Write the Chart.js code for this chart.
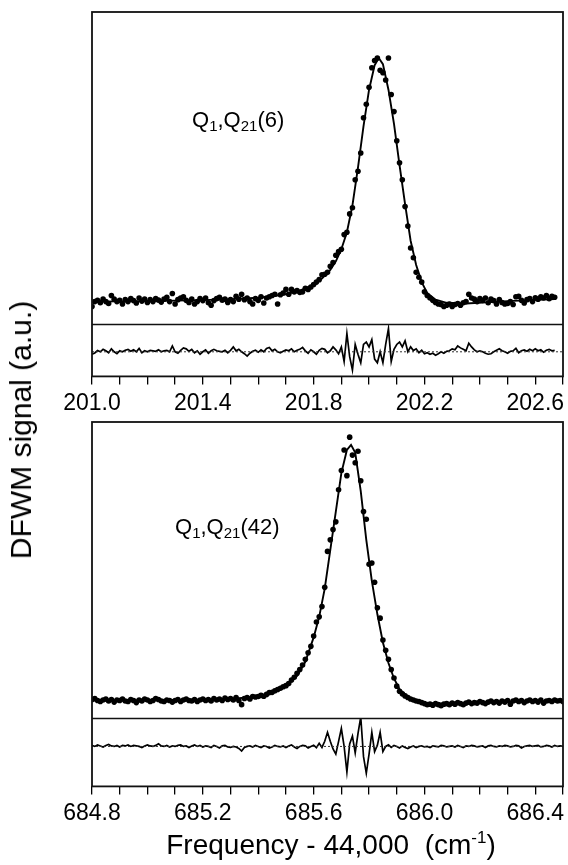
<!DOCTYPE html>
<html>
<head>
<meta charset="utf-8">
<script src="https://cdn.jsdelivr.net/npm/chart.js@4.4.0/dist/chart.umd.min.js"></script>
<style>
  html, body { margin:0; padding:0; background:#fff; }
  body { width:568px; height:865px; position:relative; overflow:hidden; font-family:"Liberation Sans", Arial, Helvetica, sans-serif; color:#000; }
  canvas { position:absolute; left:0; }
  .lbl { position:absolute; white-space:nowrap; font-size:22px; line-height:22px; }
  .lbl .sb { font-size:15px; position:relative; top:4px; }
  #ytitle { position:absolute; left:21px; top:430px; transform:translate(-50%,-50%) rotate(-90deg); white-space:nowrap; font-size:30px; line-height:30px; }
  #xtitle { position:absolute; left:331px; top:831px; transform:translateX(-50%); white-space:nowrap; font-size:28px; line-height:28px; }
  #xtitle .sp { font-size:17px; position:relative; top:-11px; }
</style>
</head>
<body>
<canvas id="c1" width="568" height="422" style="top:0px"></canvas>
<canvas id="c2" width="568" height="455" style="top:410px"></canvas>
<div class="lbl" style="left:192px;top:109px">Q<span class="sb">1</span>,Q<span class="sb">21</span>(6)</div>
<div class="lbl" style="left:175px;top:516px">Q<span class="sb">1</span>,Q<span class="sb">21</span>(42)</div>
<div id="ytitle">DFWM signal (a.u.)</div>
<div id="xtitle">Frequency - 44,000&nbsp;&nbsp;(cm<span class="sp">-1</span>)</div>
<script>
// ---------------- Top panel: Q1,Q21(6) ----------------
const topFreqStart = 201.00;
const topFreqStep = 0.01;
const topSignal = [
  -0.02, 0.0, 0.005, -0.005, 0.01, 0.0, -0.008, 0.025, 0.01, 0.0,
  0.005, -0.01, 0.008, 0.0, 0.012, 0.004, -0.006, 0.015, 0.002, 0.01,
  -0.004, 0.008, 0.0, 0.012, 0.006, -0.002, 0.01, 0.018, 0.0, 0.033,
  -0.01, 0.008, 0.015, 0.02, 0.005, -0.004, 0.01, -0.01, 0.0, 0.012,
  0.004, 0.015, -0.005, -0.015, 0.004, 0.012, 0.018, 0.006, 0.01, -0.004,
  0.008, 0.0, 0.022, 0.01, 0.03, 0.008, 0.015, 0.0, -0.01, 0.012,
  0.005, 0.02, -0.006, 0.015, 0.02, 0.025, 0.03, -0.01, 0.028, 0.035,
  0.05, 0.03, 0.05, 0.04, 0.045, 0.038, 0.04, 0.055, 0.05, 0.06,
  0.07, 0.08, 0.09, 0.11, 0.112, 0.12, 0.145, 0.16, 0.19, 0.205,
  0.215, 0.275, 0.285, 0.36, 0.385, 0.5, 0.535, 0.61, 0.755, 0.81,
  0.88, 0.96, 0.99, 1.0, 0.95, 0.94, 0.91, 1.0, 0.85, 0.78,
  0.66, 0.57, 0.5, 0.39, 0.31, 0.22, 0.18, 0.12, 0.1, 0.08,
  0.04, 0.025, 0.015, 0.005, -0.004, -0.01, -0.012, -0.02, -0.015, -0.01,
  -0.02, -0.012, -0.008, -0.015, -0.005, 0.0, 0.03, 0.015, 0.01, 0.0,
  0.012, 0.005, 0.015, -0.005, 0.01, 0.004, -0.01, 0.008, -0.004, -0.01,
  -0.008, 0.0, -0.012, 0.02, 0.022, 0.005, -0.006, 0.008, 0.012, 0.0,
  0.016, 0.01, 0.02, 0.015, 0.025, 0.012, 0.022, 0.018
];
const topResidual = [
  -0.01, -0.005, 0.005, 0.0, 0.01, 0.004, -0.004, 0.012, 0.0, -0.008,
  0.004, 0.0, 0.006, 0.01, 0.002, 0.008, 0.0, 0.014, -0.004, 0.004,
  0.0, 0.006, 0.004, 0.002, 0.008, 0.0, 0.004, 0.006, 0.0, 0.024,
  0.0, -0.006, 0.006, 0.016, 0.012, 0.002, 0.01, -0.004, 0.004, -0.01,
  0.0, 0.008, -0.006, 0.004, 0.01, 0.004, 0.002, 0.0, 0.006, -0.004,
  0.006, 0.02, 0.004, 0.01, 0.0, -0.008, -0.018, -0.006, 0.002, 0.006,
  -0.002, 0.008, 0.0, 0.014, 0.018, 0.004, 0.01, 0.0, -0.004, 0.002,
  0.008, 0.004, 0.012, 0.0, 0.006, 0.01, 0.018, 0.004, -0.006, 0.008,
  0.0, -0.01, 0.006, 0.014, 0.01, -0.004, 0.004, 0.02, 0.008, -0.008,
  0.02, -0.04, 0.075, -0.02, -0.075, 0.03, -0.01, -0.045, 0.03, 0.04,
  0.02, 0.05, -0.03, -0.045, 0.0, -0.045, 0.03, 0.095, -0.04, 0.01,
  0.03, 0.04, 0.02, 0.045, 0.0, 0.02, 0.005, 0.012, -0.004, 0.006,
  -0.008, -0.004, -0.01, -0.006, -0.014, -0.008, 0.0, -0.006, 0.002, 0.004,
  0.012, 0.008, 0.024, 0.016, 0.01, 0.004, 0.035, 0.02, 0.008, 0.0,
  0.004, 0.0, -0.006, -0.01, -0.008, 0.0, 0.006, 0.012, 0.004, 0.0,
  -0.006, 0.002, 0.004, 0.014, -0.004, 0.004, 0.008, 0.002, 0.01, 0.004,
  0.012, 0.004, 0.008, -0.002, 0.006, 0.01, 0.004, 0.006
];
const topFitFreq = [201.0, 201.2, 201.4, 201.5, 201.6, 201.65, 201.7, 201.75, 201.8, 201.83, 201.86, 201.88, 201.9, 201.92, 201.94, 201.96, 201.98, 202.0, 202.02, 202.035, 202.05, 202.07, 202.09, 202.11, 202.13, 202.15, 202.17, 202.19, 202.21, 202.24, 202.28, 202.35, 202.5, 202.67];
const topFitSignal = [0.0, 0.002, 0.006, 0.01, 0.016, 0.022, 0.03, 0.045, 0.07, 0.095, 0.13, 0.165, 0.215, 0.285, 0.395, 0.55, 0.72, 0.87, 0.97, 1.0, 0.975, 0.87, 0.73, 0.56, 0.4, 0.25, 0.15, 0.08, 0.035, 0.008, -0.005, -0.008, 0.002, 0.01];
const topTickLabels = ['201.0', '201.4', '201.8', '202.2', '202.6'];
const topRange = [201.0, 202.7];

// ---------------- Bottom panel: Q1,Q21(42) ----------------
const botFreqStart = 684.80;
const botFreqStep = 0.01;
const botSignal = [
  0.008, 0.012, 0.004, 0.0, 0.006, 0.01, 0.002, 0.008, -0.002, 0.006,
  0.004, 0.01, 0.002, 0.0, 0.008, 0.004, -0.004, 0.006, 0.002, 0.01,
  0.006, 0.0, 0.004, 0.012, 0.008, 0.002, 0.0, 0.006, 0.004, -0.002,
  0.004, 0.008, 0.0, 0.006, 0.01, 0.004, 0.002, 0.008, 0.0, 0.006,
  0.01, 0.004, 0.008, 0.002, 0.012, 0.006, 0.01, 0.004, 0.014, 0.008,
  0.012, 0.006, 0.016, 0.004, -0.012, 0.012, 0.016, 0.01, 0.02, 0.018,
  0.02, 0.024, 0.021, 0.028, 0.035, 0.036, 0.042, 0.047, 0.052, 0.058,
  0.062, 0.07, 0.084, 0.095, 0.11, 0.125, 0.142, 0.165, 0.19, 0.215,
  0.255, 0.31, 0.33, 0.37, 0.445, 0.585, 0.63, 0.67, 0.70, 0.825,
  0.9, 0.98, 0.88, 1.03, 0.96, 0.93, 0.975, 0.86, 0.74, 0.71,
  0.535, 0.54, 0.465, 0.365, 0.325, 0.24, 0.2, 0.165, 0.125, 0.092,
  0.06, 0.04, 0.03, 0.022, 0.016, 0.01, 0.006, 0.002, 0.0, -0.004,
  -0.008, -0.012, -0.01, -0.014, -0.008, -0.012, -0.016, -0.01, -0.008, -0.012,
  -0.006, -0.01, -0.004, -0.008, -0.012, -0.006, -0.002, -0.008, -0.004, -0.006,
  0.0, -0.004, -0.008, -0.002, 0.002, -0.004, 0.0, -0.006, 0.002, -0.002,
  0.004, -0.01, 0.002, 0.006, 0.0, 0.004, -0.004, 0.002, 0.006, 0.0,
  0.004, -0.002, 0.006, -0.006, 0.002, 0.004, 0.0, 0.006, 0.002, 0.004,
  0.0
];
const botResidual = [
  0.004, 0.0, 0.006, 0.002, -0.002, 0.004, 0.008, 0.002, 0.0, 0.004,
  -0.002, 0.004, 0.002, 0.006, 0.0, 0.004, 0.002, 0.0, -0.004, 0.002,
  0.006, 0.002, 0.0, 0.004, 0.01, 0.002, 0.0, 0.004, -0.002, 0.002,
  0.0, 0.004, 0.006, 0.0, 0.002, -0.004, 0.002, 0.006, 0.0, 0.004,
  -0.002, 0.002, 0.0, -0.004, 0.004, 0.0, -0.006, 0.002, 0.004, -0.002,
  -0.004, 0.0, -0.002, -0.008, -0.018, -0.004, 0.0, 0.002, -0.002, 0.004,
  0.0, -0.004, 0.002, 0.0, -0.006, -0.002, 0.004, 0.0, -0.002, 0.002,
  -0.004, 0.002, 0.006, -0.002, -0.008, 0.0, 0.004, 0.002, -0.006, 0.0,
  0.005, -0.005, 0.012, -0.004, 0.02, 0.055, 0.02, -0.01, -0.03, 0.02,
  0.07, 0.0, -0.1, 0.01, 0.04, -0.025, 0.05, 0.115, -0.04, -0.105,
  -0.03, 0.055, -0.02, 0.005, 0.055, -0.02, 0.0, 0.006, -0.004, 0.004,
  0.0, -0.006, 0.002, -0.004, -0.008, -0.002, 0.002, -0.004, 0.0, 0.002,
  -0.002, 0.0, -0.004, 0.002, 0.0, -0.002, 0.004, 0.002, -0.002, 0.0,
  0.002, -0.002, 0.004, 0.0, -0.004, 0.002, 0.0, 0.004, 0.002, -0.002,
  0.0, 0.002, -0.004, 0.002, 0.004, 0.0, -0.002, 0.002, 0.0, 0.004,
  0.002, -0.002, 0.0, 0.004, 0.002, -0.006, 0.0, 0.002, 0.004, 0.0,
  0.002, 0.004, -0.002, 0.0, 0.004, 0.002, -0.002, 0.004, 0.0, 0.002,
  0.0
];
const botFitFreq = [684.8, 685.0, 685.2, 685.3, 685.4, 685.45, 685.5, 685.54, 685.57, 685.6, 685.62, 685.64, 685.66, 685.68, 685.70, 685.72, 685.735, 685.75, 685.77, 685.79, 685.81, 685.83, 685.85, 685.87, 685.89, 685.91, 685.94, 685.97, 686.0, 686.1, 686.3, 686.5];
const botFitSignal = [0.004, 0.005, 0.007, 0.01, 0.02, 0.032, 0.058, 0.1, 0.155, 0.25, 0.33, 0.44, 0.59, 0.74, 0.89, 0.98, 1.0, 0.97, 0.82, 0.63, 0.47, 0.34, 0.23, 0.15, 0.09, 0.048, 0.018, 0.003, -0.006, -0.008, 0.0, 0.002];
const botTickLabels = ['684.8', '685.2', '685.6', '686.0', '686.4'];
const botRange = [684.8, 686.5];

// ---------------- helpers ----------------
const FONT = '"Liberation Sans", Arial, Helvetica, sans-serif';

function gridPoints(start, step, values) {
  return values.map((v, i) => ({ x: +(start + i * step).toFixed(3), y: v }));
}
function pairPoints(xs, ys) {
  return xs.map((x, i) => ({ x: x, y: ys[i] }));
}

const framePlugin = {
  id: 'frame',
  afterDatasetsDraw(chart) {
    const { ctx, chartArea: a } = chart;
    const ys = chart.scales.ys;
    ctx.save();
    ctx.strokeStyle = '#111';
    ctx.lineWidth = 1.8;
    ctx.strokeRect(a.left, a.top, a.right - a.left, a.bottom - a.top);
    ctx.lineWidth = 1.3;
    ctx.beginPath();
    ctx.moveTo(a.left, ys.bottom);
    ctx.lineTo(a.right, ys.bottom);
    ctx.stroke();
    ctx.restore();
  }
};

function makePanel(id, p) {
  const data = gridPoints(p.start, p.step, p.signal);
  const resid = gridPoints(p.start, p.step, p.residual);
  const fit = pairPoints(p.fitX, p.fitY);
  const zero = [{ x: p.range[0], y: 0 }, { x: p.range[1], y: 0 }];
  return new Chart(document.getElementById(id), {
    type: 'scatter',
    data: {
      datasets: [
        { data: data, yAxisID: 'ys', showLine: false, pointRadius: 2.8, pointBorderWidth: 0, pointBackgroundColor: '#000' },
        { data: fit, yAxisID: 'ys', showLine: true, borderColor: '#000', borderWidth: 1.9, pointRadius: 0, tension: 0 },
        { data: zero, yAxisID: 'yr', showLine: true, borderColor: '#333', borderWidth: 1, borderDash: [2, 2], pointRadius: 0 },
        { data: resid, yAxisID: 'yr', showLine: true, borderColor: '#000', borderWidth: 1.7, pointRadius: 0, tension: 0 }
      ]
    },
    options: {
      responsive: false,
      animation: false,
      events: [],
      layout: { padding: p.padding },
      plugins: { legend: { display: false }, tooltip: { enabled: false } },
      scales: {
        x: {
          type: 'linear', position: 'bottom', min: p.range[0], max: p.range[1],
          border: { display: false },
          grid: { drawOnChartArea: false, drawTicks: true, tickLength: 8, color: '#000', tickColor: '#000', lineWidth: 1.3 },
          ticks: {
            stepSize: 0.1, autoSkip: false, maxRotation: 0, minRotation: 0, padding: 5,
            color: '#000', font: { family: FONT, size: 23 },
            callback: (v) => { const s = Number(v).toFixed(1); return p.labels.includes(s) ? s : ''; }
          }
        },
        yr: { type: 'linear', position: 'left', stack: 'panel', stackWeight: p.wr, display: false, min: p.rRange[0], max: p.rRange[1] },
        ys: { type: 'linear', position: 'left', stack: 'panel', stackWeight: p.ws, display: false, min: p.sRange[0], max: p.sRange[1] }
      }
    },
    plugins: [framePlugin]
  });
}

makePanel('c1', {
  start: topFreqStart, step: topFreqStep, signal: topSignal, residual: topResidual,
  fitX: topFitFreq, fitY: topFitSignal, labels: topTickLabels, range: topRange,
  sRange: [-0.094, 1.189], rRange: [-0.101, 0.112], ws: 313, wr: 52,
  padding: { left: 92, right: 4, top: 12, bottom: 0 }
});
makePanel('c2', {
  start: botFreqStart, step: botFreqStep, signal: botSignal, residual: botResidual,
  fitX: botFitFreq, fitY: botFitSignal, labels: botTickLabels, range: botRange,
  sRange: [-0.066, 1.089], rRange: [-0.156, 0.109], ws: 297, wr: 68,
  padding: { left: 92, right: 4, top: 12, bottom: 33 }
});
</script>
</body>
</html>
